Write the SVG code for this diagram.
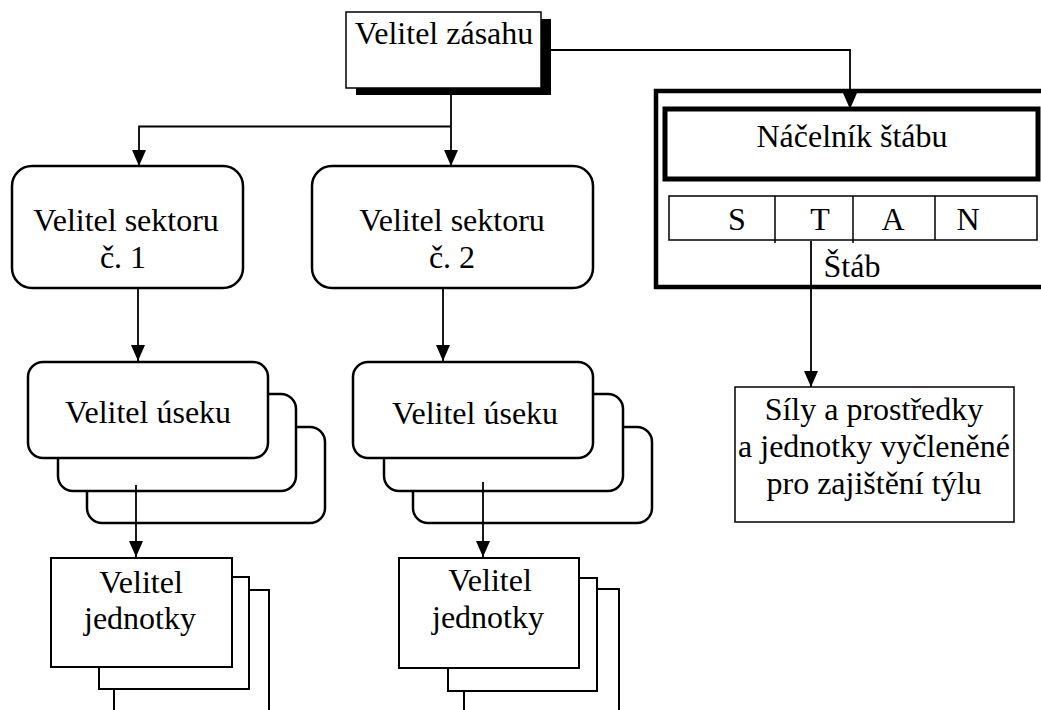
<svg xmlns="http://www.w3.org/2000/svg" width="1041" height="710" viewBox="0 0 1041 710">
<defs>
<marker id="arr" markerUnits="userSpaceOnUse" markerWidth="16" markerHeight="14" viewBox="0 0 16 14" refX="16" refY="7" orient="auto">
<path d="M0,0 L16,7 L0,14 Z" fill="#000"/>
</marker>
<style>
text{font-family:'Liberation Serif','DejaVu Serif',serif;font-size:32px;fill:#000;text-anchor:middle}
.rb{fill:#fff;stroke:#000;stroke-width:2.5}
.sq{fill:#fff;stroke:#000;stroke-width:2}
.thin{fill:#fff;stroke:#000;stroke-width:1.5}
.thick{fill:#fff;stroke:#000;stroke-width:5}
.ca{fill:none;stroke:#000;stroke-width:1.8;marker-end:url(#arr)}
</style>
</defs>
<rect width="1041" height="710" fill="#fff"/>
<g font-family="Liberation Serif, DejaVu Serif, serif">

<g id="velitel-zasahu">
<rect x="356" y="19" width="195" height="76" fill="#000"/>
<rect x="346" y="12" width="195" height="76" class="thin"/>
<text x="444" y="44">Velitel zásahu</text>
</g>

<g id="stab">
<rect x="656" y="91" width="400" height="196" fill="#fff" stroke="#000" stroke-width="4.5"/>
<text x="852" y="277">Štáb</text>
</g>

<g id="nacelnik-stabu">
<rect x="665" y="109" width="373" height="70" class="thick"/>
<text x="852" y="147">Náčelník štábu</text>
</g>

<g id="stan">
<rect x="669" y="196" width="368" height="44" class="thin"/>
<line x1="775" y1="196" x2="775" y2="243" stroke="#000" stroke-width="1.5"/>
<line x1="853" y1="196" x2="853" y2="243" stroke="#000" stroke-width="1.5"/>
<line x1="935" y1="196" x2="935" y2="240" stroke="#000" stroke-width="1.5"/>
<text x="737" y="230">S</text>
<text x="820" y="230">T</text>
<text x="893" y="230">A</text>
<text x="968" y="230">N</text>
</g>

<g id="sektor-1">
<rect x="12" y="166" width="231" height="122" rx="20" ry="20" class="rb"/>
<text x="126" y="231">Velitel sektoru</text>
<text x="123" y="268">č. 1</text>
</g>

<g id="sektor-2">
<rect x="312" y="166" width="281" height="122" rx="20" ry="20" class="rb"/>
<text x="452" y="231">Velitel sektoru</text>
<text x="452" y="268">č. 2</text>
</g>

<g id="usek-1">
<rect x="87" y="427" width="238" height="96" rx="15" ry="15" class="rb"/>
<rect x="58" y="394" width="238" height="97" rx="15" ry="15" class="rb"/>
<rect x="28" y="362" width="240" height="96" rx="15" ry="15" class="rb"/>
<text x="148" y="423">Velitel úseku</text>
</g>

<g id="usek-2">
<rect x="413" y="427" width="239" height="96" rx="15" ry="15" class="rb"/>
<rect x="384" y="394" width="239" height="97" rx="15" ry="15" class="rb"/>
<rect x="353" y="362" width="240" height="96" rx="15" ry="15" class="rb"/>
<text x="475" y="424">Velitel úseku</text>
</g>

<g id="jednotka-1">
<rect x="114" y="590" width="155" height="140" class="sq"/>
<rect x="99" y="577" width="150" height="112" class="sq"/>
<rect x="51" y="558" width="181" height="109" class="sq"/>
<text x="141" y="593">Velitel</text>
<text x="140" y="629">jednotky</text>
</g>

<g id="jednotka-2">
<rect x="464" y="589" width="155" height="140" class="sq"/>
<rect x="448" y="578" width="149" height="113" class="sq"/>
<rect x="399" y="558" width="180" height="110" class="sq"/>
<text x="490" y="591">Velitel</text>
<text x="488" y="628">jednotky</text>
</g>

<g id="sily-a-prostredky">
<rect x="735" y="387" width="279" height="135" class="thin"/>
<text x="874" y="420">Síly a prostředky</text>
<text x="874" y="457">a jednotky vyčleněné</text>
<text x="874" y="494">pro zajištění týlu</text>
</g>

</g>

<g id="connectors">
<polyline points="551,50 850,50 850,109" class="ca"/>
<line x1="451" y1="95" x2="451" y2="166" class="ca"/>
<polyline points="451,126.5 139,126.5 139,166" class="ca"/>
<line x1="138" y1="288" x2="138" y2="361" class="ca"/>
<line x1="443" y1="288" x2="443" y2="361" class="ca"/>
<line x1="136" y1="485" x2="136" y2="557" class="ca"/>
<line x1="483" y1="482" x2="483" y2="557" class="ca"/>
<line x1="811" y1="241" x2="811" y2="387" class="ca"/>
</g>
</svg>
